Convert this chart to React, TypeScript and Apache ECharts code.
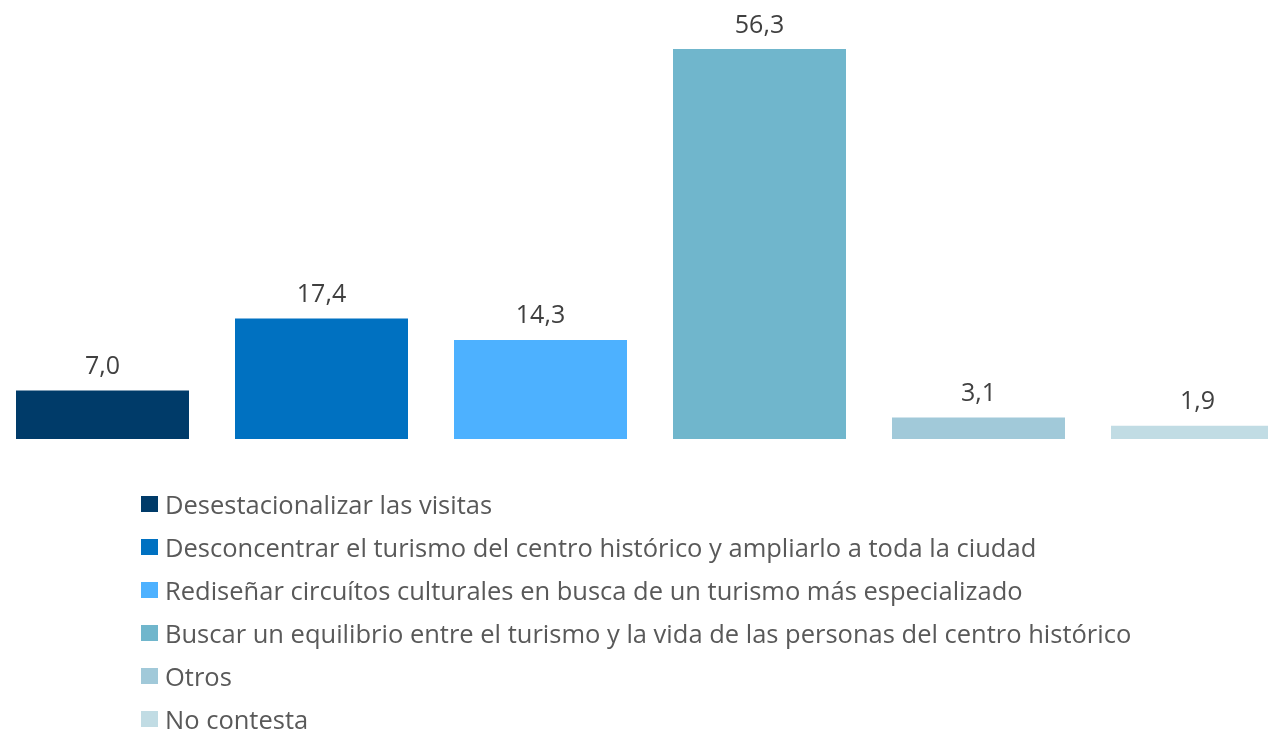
import React, { useEffect, useRef } from "react";
import * as echarts from "echarts";

const categories = [
  "Desestacionalizar las visitas",
  "Desconcentrar el turismo del centro histórico y ampliarlo a toda la ciudad",
  "Rediseñar circuítos culturales en busca de un turismo más especializado",
  "Buscar un equilibrio entre el turismo y la vida de las personas del centro histórico",
  "Otros",
  "No contesta",
];
const values = [7.0, 17.4, 14.3, 56.3, 3.1, 1.9];
const colors = ["#003B69", "#0071C1", "#4DB1FF", "#70B6CC", "#A1C9D9", "#C1DCE4"];

export default function App() {
  const ref = useRef<HTMLDivElement>(null);
  useEffect(() => {
    if (!ref.current) return;
    const chart = echarts.init(ref.current, undefined, { renderer: "svg" });
    const font = "'Open Sans', sans-serif";
    chart.setOption({
      animation: false,
      grid: { left: 0, right: 0, top: 49, bottom: 294, containLabel: false },
      xAxis: {
        type: "category",
        data: categories,
        show: false,
      },
      yAxis: { type: "value", min: 0, max: 56.3, show: false },
      legend: {
        orient: "vertical",
        left: 148,
        top: 491,
        height: 300,
        padding: 0,
        itemWidth: 17,
        itemHeight: 16,
        itemGap: 17,
        icon: "rect",
        textStyle: { fontFamily: font, fontSize: 25.5, color: "#595959", lineHeight: 26, padding: [0, 0, 0, 2] },
        data: categories,
      },
      series: categories.map((name, i) => ({
        name,
        type: "bar",
        barWidth: 173,
        barGap: "-100%",
        itemStyle: { color: colors[i] },
        data: values.map((v, j) => (j === i ? v : "-")),
        label: {
          show: true,
          position: "top",
          distance: 14,
          fontFamily: font,
          fontSize: 25,
          color: "#404040",
          formatter: (p: any) => Number(p.value).toFixed(1).replace(".", ","),
        },
      })),
    });
    return () => chart.dispose();
  }, []);
  return (
    <div style={{ position: "fixed", left: 0, top: 0, width: 1268, height: 733, overflow: "hidden" }}>
      <div ref={ref} style={{ position: "absolute", left: -7, top: 0, width: 1314, height: 733 }} />
    </div>
  );
}
